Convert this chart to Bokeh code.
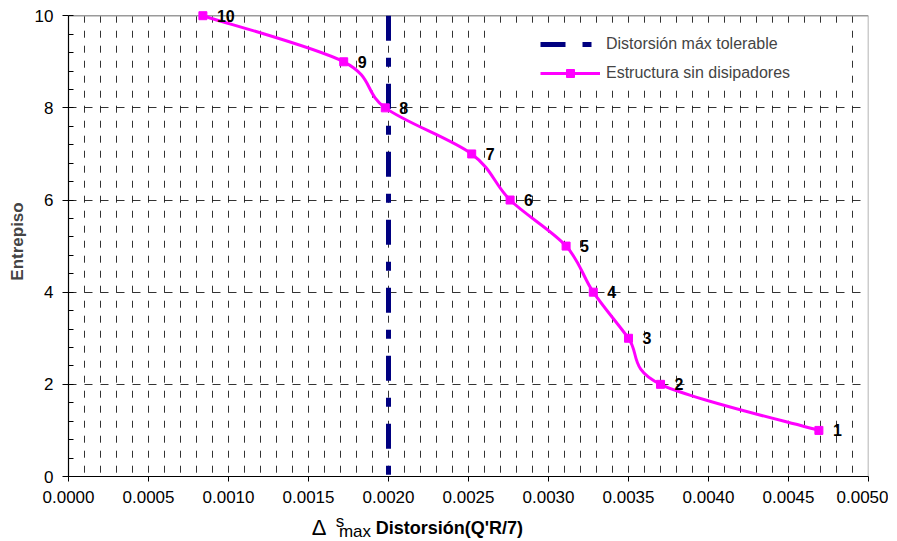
from bokeh.plotting import figure
from bokeh.layouts import column
from bokeh.models import (Range1d, FixedTicker, PrintfTickFormatter, Legend,
                          LegendItem, LabelSet, BoxAnnotation, ColumnDataSource)
from bokeh.core.properties import value
from bokeh.embed import file_html
from bokeh.resources import INLINE

# ---- data ----
floors = [1, 2, 3, 4, 5, 6, 7, 8, 9, 10]
drift = [0.00469, 0.00370, 0.00350, 0.00328, 0.00311, 0.00276, 0.00252, 0.00198, 0.00172, 0.00084]
floor_labels = [str(f) for f in floors]
limit_drift = 0.002
series_names = ["Distorsión máx tolerable", "Estructura sin disipadores"]
x_ticks = [0.0, 0.0005, 0.001, 0.0015, 0.002, 0.0025, 0.003, 0.0035, 0.004, 0.0045, 0.005]
y_ticks = [0, 2, 4, 6, 8, 10]

FONT = "Liberation Sans"
MAGENTA = "#FF00FF"
NAVY = "#000080"
NAN = float("nan")
X_MAX, Y_MAX = 0.005, 10
GRID_STEP = 0.0001

xr = Range1d(0, X_MAX)
p = figure(width=888, height=506, output_backend="svg", toolbar_location=None,
           x_range=xr, y_range=Range1d(0, 10.2),
           min_border_left=68, min_border_right=20, min_border_top=6, min_border_bottom=30)
p.background_fill_color = "white"
p.border_fill_color = "white"
p.outline_line_color = None

# axes
p.xaxis.ticker = FixedTicker(ticks=x_ticks)
p.xaxis.formatter = PrintfTickFormatter(format="%.4f")
p.yaxis.ticker = FixedTicker(ticks=y_ticks,
                             minor_ticks=[round(0.4 * k, 1) for k in range(0, 26)])
p.yaxis.bounds = (0, Y_MAX)
for ax in (p.xaxis, p.yaxis):
    ax.axis_line_color = "black"
    ax.axis_line_width = 1.2
    ax.major_tick_line_color = "black"
    ax.major_tick_in = 0
    ax.major_label_text_font = FONT
    ax.major_label_text_font_size = "17px"
    ax.major_label_text_color = "black"
    ax.major_label_standoff = 9
p.xaxis.major_tick_out = 5
p.xaxis.minor_tick_line_color = None
p.yaxis.major_tick_out = 6
p.yaxis.minor_tick_in = 5
p.yaxis.minor_tick_out = 0
p.yaxis.minor_tick_line_color = "black"
p.yaxis.axis_label = "Entrepiso"
p.yaxis.axis_label_text_font = FONT
p.yaxis.axis_label_text_font_size = "17px"
p.yaxis.axis_label_text_font_style = "bold"
p.yaxis.axis_label_standoff = 5

# grids: horizontal from the grid model, vertical drawn only up to the top of the box
p.xgrid.visible = False
p.ygrid.ticker = FixedTicker(ticks=y_ticks[1:-1])
p.ygrid.grid_line_color = "black"
p.ygrid.grid_line_width = 1
p.ygrid.grid_line_dash = "8 8"
p.ygrid.grid_line_alpha = 0.8
gx = [GRID_STEP * k for k in range(1, int(round(X_MAX / GRID_STEP)))]
p.segment(x0=gx, y0=[Y_MAX] * len(gx), x1=gx, y1=[0] * len(gx), line_color="black",
          line_width=1, line_dash="7 8", line_alpha=0.8)
# plot box (top and right edges)
p.segment(x0=[0, X_MAX], y0=[Y_MAX, Y_MAX], x1=[X_MAX, X_MAX], y1=[Y_MAX, 0],
          line_color="#9a9a9a", line_width=1.5)

# white background behind legend
p.add_layout(BoxAnnotation(left=0.0026375, right=0.004875, bottom=8.46, top=9.72,
                           fill_color="white", fill_alpha=1, line_alpha=0))

# limit line
vline = p.line(x=[limit_drift, limit_drift], y=[Y_MAX, 0], line_color=NAVY, line_width=5,
               line_dash="25 17 9 17")

# smoothed series line (Catmull-Rom -> cubic bezier through the data points)
n = len(drift)
x0, y0, x1, y1, cx0, cy0, cx1, cy1 = [], [], [], [], [], [], [], []
for i in range(n - 1):
    pm = (drift[max(i - 1, 0)], floors[max(i - 1, 0)])
    pa = (drift[i], floors[i])
    pb = (drift[i + 1], floors[i + 1])
    pn = (drift[min(i + 2, n - 1)], floors[min(i + 2, n - 1)])
    x0.append(pa[0]); y0.append(pa[1]); x1.append(pb[0]); y1.append(pb[1])
    cx0.append(pa[0] + (pb[0] - pm[0]) / 6); cy0.append(pa[1] + (pb[1] - pm[1]) / 6)
    cx1.append(pb[0] - (pn[0] - pa[0]) / 6); cy1.append(pb[1] - (pn[1] - pa[1]) / 6)
bsrc = ColumnDataSource(dict(x0=x0, y0=y0, x1=x1, y1=y1, cx0=cx0, cy0=cy0, cx1=cx1, cy1=cy1))
p.bezier(x0="x0", y0="y0", x1="x1", y1="y1", cx0="cx0", cy0="cy0", cx1="cx1", cy1="cy1",
         source=bsrc, line_color=MAGENTA, line_width=3)
leg_line = p.line(x=[NAN], y=[NAN], line_color=MAGENTA, line_width=3)
psrc = ColumnDataSource(dict(x=drift, y=floors, lab=floor_labels))
pts = p.scatter(x="x", y="y", source=psrc, marker="square", size=8,
                fill_color=MAGENTA, line_color=MAGENTA)

# point labels
p.add_layout(LabelSet(x="x", y="y", text="lab", source=psrc, x_offset=14,
                      text_baseline="middle", text_align="left", text_font=value(FONT),
                      text_font_size="16px", text_font_style="bold", text_color="black"))

legend = Legend(items=[LegendItem(label=series_names[0], renderers=[vline]),
                       LegendItem(label=series_names[1], renderers=[leg_line, pts])],
                location=(468, 389), orientation="vertical")
legend.border_line_alpha = 0
legend.background_fill_alpha = 0
legend.padding = 4
legend.spacing = 9
legend.glyph_width = 60
legend.glyph_height = 20
legend.label_standoff = 6
legend.label_text_font = FONT
legend.label_text_font_size = "16px"
legend.label_height = 20
p.add_layout(legend)

# x axis title strip (separate figure sharing the x range)
t = figure(width=888, height=34, output_backend="svg", toolbar_location=None,
           x_range=xr, y_range=Range1d(0, 34), x_axis_type=None, y_axis_type=None,
           min_border_left=68, min_border_right=20, min_border_top=0, min_border_bottom=0)
t.outline_line_color = None
t.grid.visible = False
t.text(x=[0.00152], y=[13], text=["Δ"], text_font=value(FONT), text_font_size="22px",
       text_baseline="alphabetic", text_color="black")
t.text(x=[0.00167], y=[19], text=["s"], text_font=value(FONT), text_font_size="17px",
       text_baseline="alphabetic", text_color="black")
t.text(x=[0.00169], y=[9], text=["max"], text_font=value(FONT), text_font_size="17px",
       text_baseline="alphabetic", text_color="black")
t.text(x=[0.00192], y=[13], text=["Distorsión(Q'R/7)"], text_font=value(FONT),
       text_font_size="18px", text_font_style="bold", text_baseline="alphabetic",
       text_color="black")

layout = column(p, t, spacing=0)
open("out.html", "w").write(file_html(layout, INLINE))
